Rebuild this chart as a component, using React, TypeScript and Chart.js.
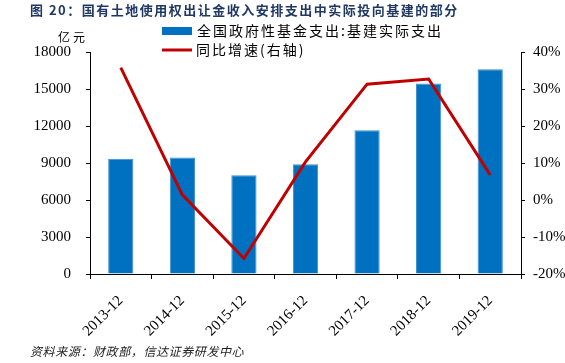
import { useEffect, useRef } from "react";
import { Chart, registerables } from "chart.js";

Chart.register(...registerables);

const categories = ["2013-12", "2014-12", "2015-12", "2016-12", "2017-12", "2018-12", "2019-12"];
const spending = [9350, 9450, 8000, 8900, 11650, 15450, 16600];
const growth = [35.8, 1.4, -15.8, 10.3, 31.3, 32.7, 6.8];

const titleText = "图 20：国有土地使用权出让金收入安排支出中实际投向基建的部分";
const unitText = "亿元";
const barLabel = "全国政府性基金支出:基建实际支出";
const lineLabel = "同比增速(右轴)";
const sourceText = "资料来源：财政部，信达证券研发中心";

const BLUE = "#0070C0";
const RED = "#C00000";
const CJK = '"Noto Sans CJK SC", sans-serif';
const SERIF = '"Liberation Serif", "Times New Roman", serif';

const textPlugin = {
  id: "textPlugin",
  afterDraw(chart: any) {
    const ctx = chart.ctx as CanvasRenderingContext2D;
    ctx.save();
    ctx.textBaseline = "middle";
    ctx.textAlign = "left";
    // title
    ctx.fillStyle = "#1F3864";
    ctx.font = `bold 13px ${CJK}`;
    (ctx as any).letterSpacing = "1.5px";
    ctx.fillText(titleText, 30, 10);
    // unit
    ctx.fillStyle = "#000";
    ctx.font = `12px ${CJK}`;
    (ctx as any).letterSpacing = "3px";
    ctx.fillText(unitText, 58, 37);
    // legend
    const ds = chart.data.datasets;
    ctx.fillStyle = ds[0].backgroundColor;
    ctx.fillRect(162, 27, 30, 8);
    ctx.fillStyle = "#000";
    ctx.font = `14px ${CJK}`;
    (ctx as any).letterSpacing = "2px";
    ctx.fillText(ds[0].label, 197, 31);
    ctx.strokeStyle = ds[1].borderColor;
    ctx.lineWidth = 3;
    ctx.beginPath();
    ctx.moveTo(162, 50);
    ctx.lineTo(192, 50);
    ctx.stroke();
    ctx.fillText(ds[1].label, 196, 50);
    // source
    ctx.fillStyle = "#222";
    ctx.font = `italic 12px ${CJK}`;
    (ctx as any).letterSpacing = "0.6px";
    ctx.fillText(sourceText, 30, 351);
    ctx.restore();
  },
};

export default function App() {
  const ref = useRef<HTMLCanvasElement | null>(null);
  useEffect(() => {
    if (!ref.current) return;
    const chart = new Chart(ref.current, {
      type: "bar",
      data: {
        labels: categories,
        datasets: [
          {
            type: "bar",
            label: barLabel,
            data: spending,
            backgroundColor: BLUE,
            borderColor: "#3d8fd0",
            borderWidth: 1,
            yAxisID: "y",
            barPercentage: 0.41,
            categoryPercentage: 1,
            order: 2,
          },
          {
            type: "line",
            label: lineLabel,
            data: growth,
            borderColor: RED,
            backgroundColor: RED,
            borderWidth: 3,
            pointRadius: 0,
            tension: 0,
            yAxisID: "y1",
            order: 1,
          } as any,
        ],
      },
      options: {
        animation: false,
        responsive: false,
        maintainAspectRatio: false,
        layout: { padding: { top: 52, left: 0, right: 0, bottom: 0 } },
        plugins: { legend: { display: false }, title: { display: false }, tooltip: { enabled: false } },
        scales: {
          x: {
            offset: true,
            grid: { display: true, drawOnChartArea: false, drawTicks: true, tickLength: 5, color: "#000", offset: true },
            border: { display: true, color: "#000", width: 1 },
            ticks: {
              color: "#000",
              font: { family: SERIF, size: 15 },
              minRotation: 45,
              maxRotation: 45,
              padding: 13,
            },
            afterFit(scale: any) {
              scale.height = 89;
            },
          },
          y: {
            position: "left",
            min: 0,
            max: 18000,
            grid: { display: true, drawOnChartArea: false, drawTicks: true, tickLength: 4, color: "#000" },
            border: { display: true, color: "#000", width: 1 },
            ticks: {
              stepSize: 3000,
              color: "#000",
              font: { family: SERIF, size: 15 },
              padding: 15,
              callback: (v: any) => String(v),
            },
            afterFit(scale: any) {
              scale.width = 90;
            },
          },
          y1: {
            position: "right",
            min: -20,
            max: 40,
            grid: { display: true, drawOnChartArea: false, drawTicks: true, tickLength: 4, color: "#000" },
            border: { display: true, color: "#000", width: 1 },
            ticks: {
              stepSize: 10,
              color: "#000",
              font: { family: SERIF, size: 15 },
              padding: 8,
              callback: (v: any) => `${v}%`,
            },
            afterFit(scale: any) {
              scale.width = 44;
            },
          },
        },
      },
      plugins: [textPlugin],
    });
    return () => chart.destroy();
  }, []);
  return (
    <div style={{ position: "fixed", left: 0, top: 0, width: 565, height: 363, background: "#fff" }}>
      <canvas ref={ref} width={565} height={363} style={{ width: 565, height: 363, display: "block" }} />
    </div>
  );
}
